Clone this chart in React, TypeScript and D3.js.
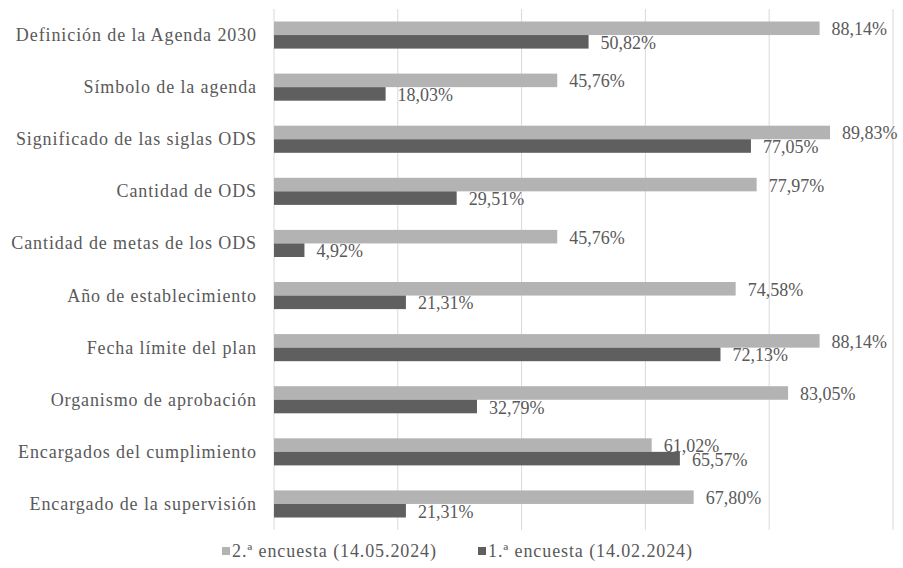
import React from "react";
import * as d3 from "d3";

const categories = [
  "Definición de la Agenda 2030",
  "Símbolo de la agenda",
  "Significado de las siglas ODS",
  "Cantidad de ODS",
  "Cantidad de metas de los ODS",
  "Año de establecimiento",
  "Fecha límite del plan",
  "Organismo de aprobación",
  "Encargados del cumplimiento",
  "Encargado de la supervisión",
];
const series2 = [88.14, 45.76, 89.83, 77.97, 45.76, 74.58, 88.14, 83.05, 61.02, 67.8];
const series1 = [50.82, 18.03, 77.05, 29.51, 4.92, 21.31, 72.13, 32.79, 65.57, 21.31];
const seriesNames = ["2.ª encuesta (14.05.2024)", "1.ª encuesta (14.02.2024)"];
const seriesColors = ["#B3B3B3", "#5F5F5F"];
const xTicks = [0, 20, 40, 60, 80, 100];

const W = 903;
const H = 568;
const FONT = "Liberation Serif, Times New Roman, serif";
const TEXT = "#595959";

export default function App() {
  const x = d3.scaleLinear().domain([0, 100]).range([274, 893]);
  const y = d3.scaleBand<string>().domain(categories).range([9, 530]).paddingInner(0.48).paddingOuter(0.24);
  const inner = d3.scaleBand<string>().domain(["s2", "s1"]).range([0, y.bandwidth()]);
  const seriesData = [series2, series1];
  const keys = ["s2", "s1"];
  const fmt = (v: number) => v.toFixed(2).replace(".", ",") + "%";
  const textStyle = { fontFamily: FONT, fontSize: "18px", fill: TEXT } as React.CSSProperties;

  return (
    <svg width={W} height={H} style={{ position: "absolute", left: 0, top: 0, background: "#fff" }}>
      {xTicks.map((t) => (
        <line key={t} x1={x(t)} x2={x(t)} y1={9} y2={530} stroke="#D9D9D9" strokeWidth={1} />
      ))}
      {categories.map((c, i) => (
        <g key={c}>
          {seriesData.map((s, k) => (
            <rect
              key={k}
              x={x(0)}
              y={(y(c) as number) + (inner(keys[k]) as number)}
              width={x(s[i]) - x(0)}
              height={inner.bandwidth()}
              fill={seriesColors[k]}
            />
          ))}
          <text
            x={257}
            y={(y(c) as number) + y.bandwidth() / 2}
            textAnchor="end"
            dominantBaseline="central"
            style={{ ...textStyle, letterSpacing: "0.9px" }}
          >
            {c}
          </text>
        </g>
      ))}
      {categories.map((c, i) =>
        seriesData.map((s, k) => (
          <text
            key={c + k}
            x={x(s[i]) + 12}
            y={(y(c) as number) + (inner(keys[k]) as number) + inner.bandwidth() / 2 + 1}
            dominantBaseline="central"
            style={textStyle}
          >
            {fmt(s[i])}
          </text>
        ))
      )}
      {seriesNames.map((n, k) => {
        const lx = k === 0 ? 222 : 478;
        return (
          <g key={n}>
            <rect x={lx} y={547} width={8} height={8} fill={seriesColors[k]} />
            <text
              x={lx + 10}
              y={551}
              dominantBaseline="central"
              style={{ ...textStyle, letterSpacing: "0.9px" }}
            >
              {n}
            </text>
          </g>
        );
      })}
    </svg>
  );
}
